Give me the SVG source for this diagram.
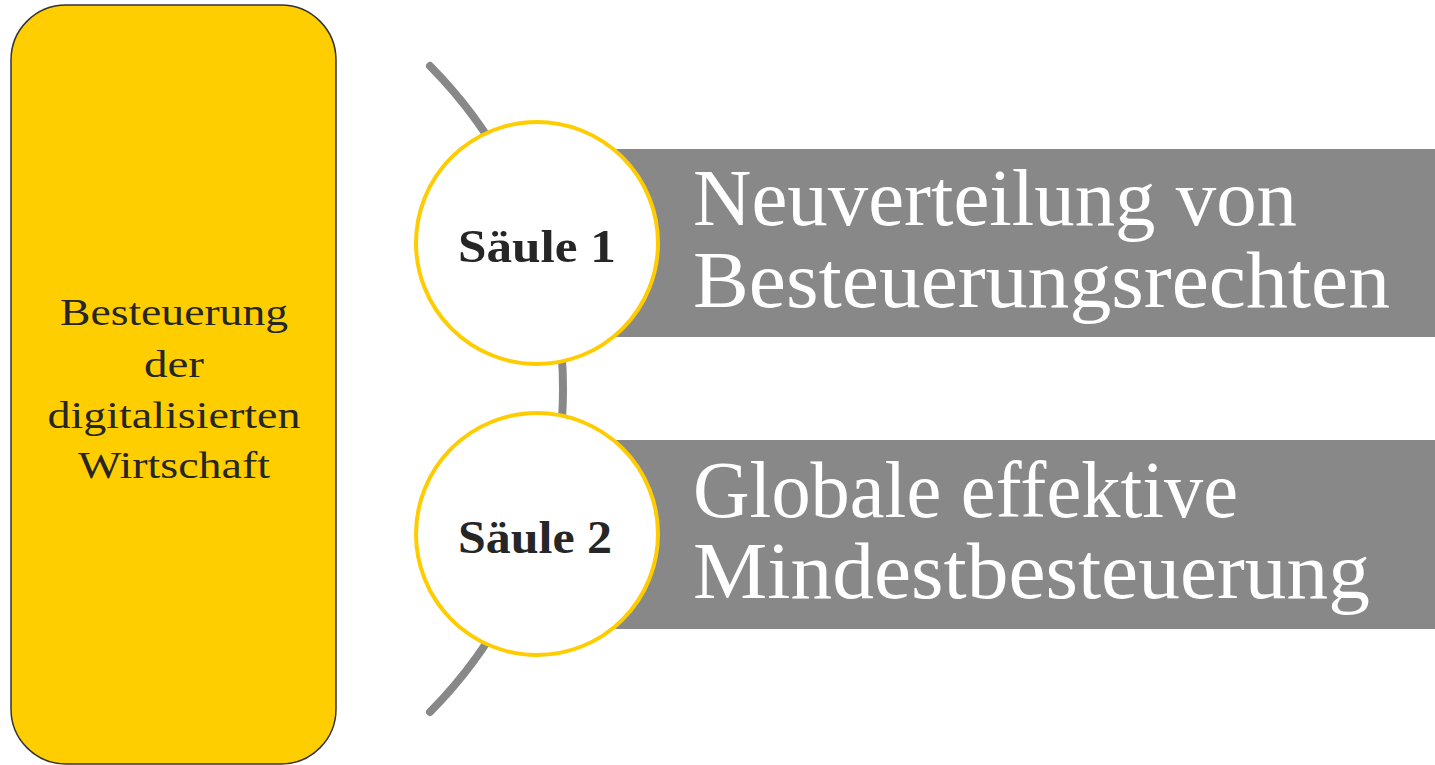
<svg xmlns="http://www.w3.org/2000/svg" width="1435" height="765" viewBox="0 0 1435 765">
  <style>
    .bar { fill: #888888; }
    .pill { fill: #FFFFFF; stroke: #FFCC00; stroke-width: 4; }
    .lbl { font-family: "Liberation Serif", "DejaVu Serif", serif; font-weight: bold; font-size: 46px; fill: #262626; text-anchor: middle; }
    .big { font-family: "Liberation Serif", "DejaVu Serif", serif; font-size: 81px; fill: #FFFFFF; }
    .main { font-family: "Liberation Serif", "DejaVu Serif", serif; font-size: 38px; fill: #262626; text-anchor: middle; }
  </style>
  <rect width="1435" height="765" fill="#FFFFFF"/>
  <g id="main-node">
    <rect x="11" y="5" width="325" height="759" rx="55" ry="55" fill="#FFCE00" stroke="#333333" stroke-width="1.5"/>
    <text class="main" x="174" y="325" textLength="228" lengthAdjust="spacingAndGlyphs">Besteuerung</text>
    <text class="main" x="174" y="377" textLength="60" lengthAdjust="spacingAndGlyphs">der</text>
    <text class="main" x="174" y="428" textLength="253" lengthAdjust="spacingAndGlyphs">digitalisierten</text>
    <text class="main" x="174" y="478" textLength="192" lengthAdjust="spacingAndGlyphs">Wirtschaft</text>
  </g>
  <g id="connectors">
    <path d="M 430 66 A 458.7 458.7 0 0 1 430 712" fill="none" stroke="#888888" stroke-width="8" stroke-linecap="round"/>
  </g>
  <g id="pillar1">
    <rect class="bar" x="600" y="149" width="835" height="188"/>
    <circle class="pill" cx="537" cy="243" r="121"/>
    <text class="lbl" x="537" y="262" textLength="158" lengthAdjust="spacingAndGlyphs">Säule 1</text>
    <text class="big" x="693" y="225" textLength="604" lengthAdjust="spacingAndGlyphs">Neuverteilung von</text>
    <text class="big" x="693" y="307" textLength="697" lengthAdjust="spacingAndGlyphs">Besteuerungsrechten</text>
  </g>
  <g id="pillar2">
    <rect class="bar" x="600" y="440" width="835" height="189"/>
    <circle class="pill" cx="537" cy="534" r="121"/>
    <text class="lbl" x="535" y="553" textLength="154" lengthAdjust="spacingAndGlyphs">Säule 2</text>
    <text class="big" x="693" y="517" textLength="545" lengthAdjust="spacingAndGlyphs">Globale effektive</text>
    <text class="big" x="693" y="598" textLength="677" lengthAdjust="spacingAndGlyphs">Mindestbesteuerung</text>
  </g>
</svg>
